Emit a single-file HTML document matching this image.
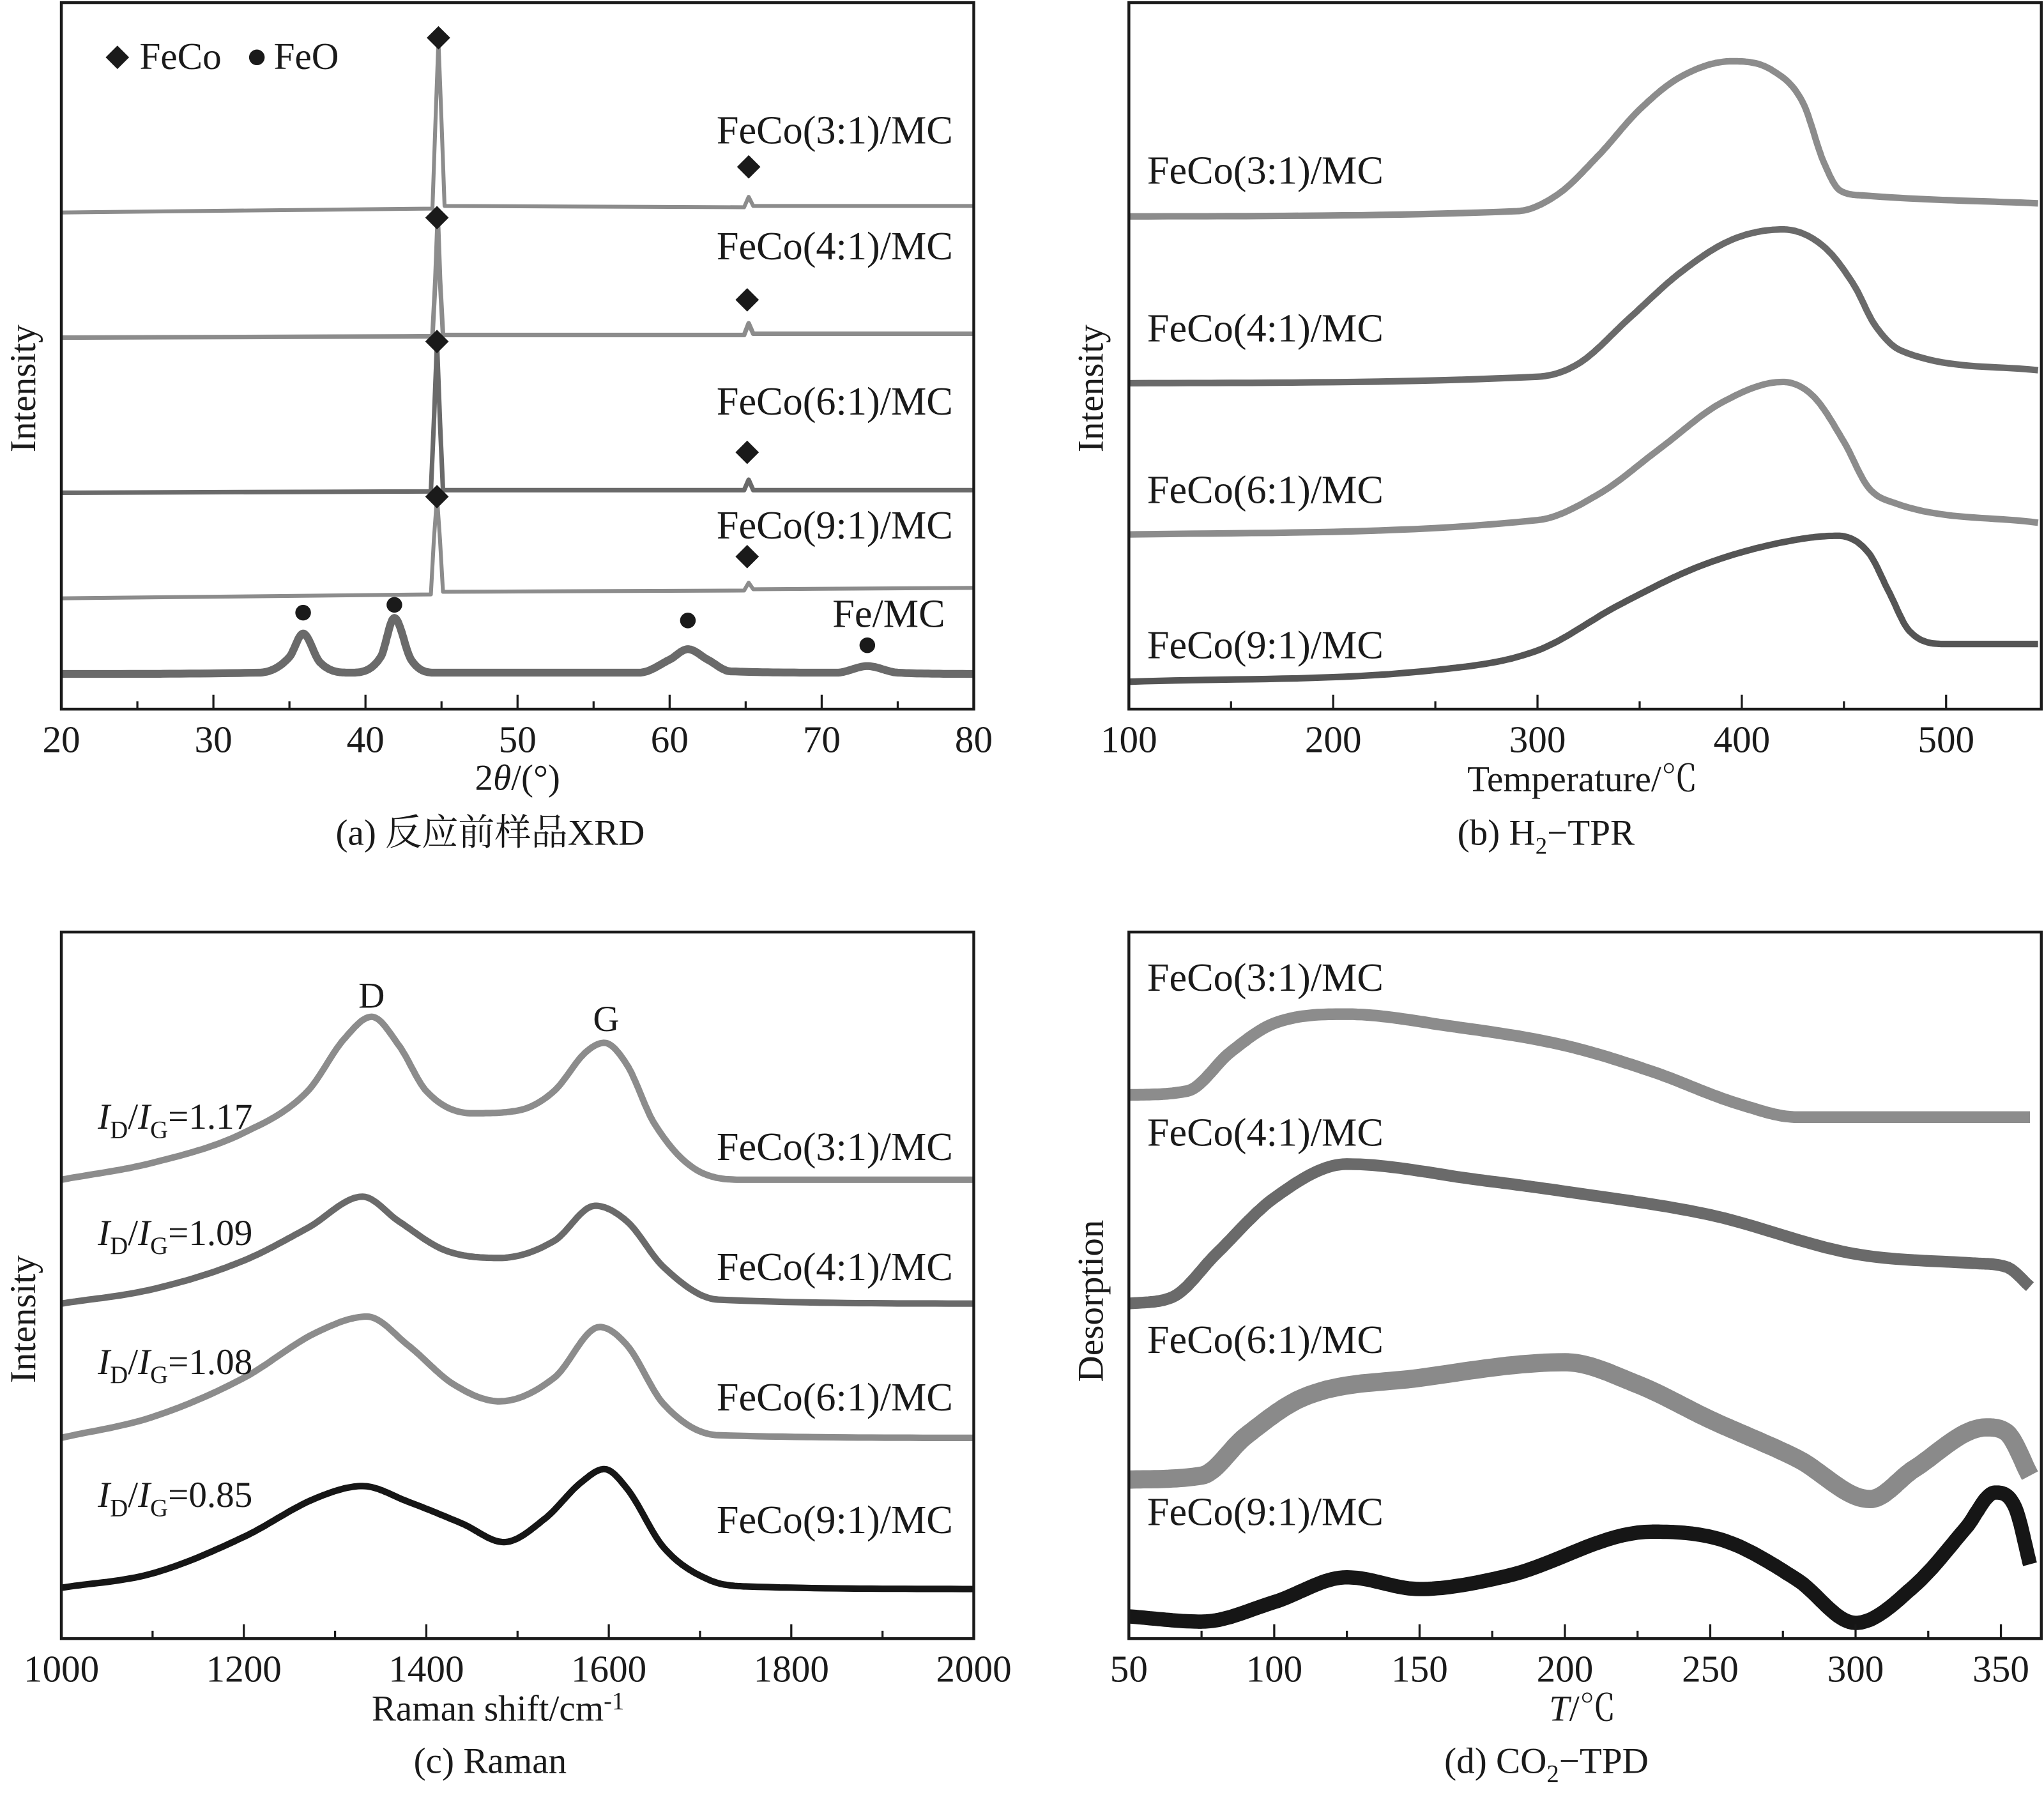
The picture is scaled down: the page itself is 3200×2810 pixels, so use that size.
<!DOCTYPE html>
<html><head><meta charset="utf-8"><style>
html,body{margin:0;padding:0;background:#fff}
svg{display:block}
text{font-family:"Liberation Serif","Noto Serif CJK SC","Noto Sans CJK SC",serif;fill:#1a1a1a}
</style></head><body>
<svg id="fig" width="3200" height="2810" viewBox="0 0 1568 1377" xmlns="http://www.w3.org/2000/svg"></svg>
<script>
// ---------- DATA ----------
// (a) XRD: 2θ positions and intensities (a.u.)
const xrd31_x=[20,44.4,44.6,44.8,45.0,45.2,64.9,65.2,65.5,80];
const xrd31_y=[381,384,450,513,450,386,385,393,386,386];
const xrd41_x=[20,44.4,44.6,44.75,44.9,45.1,64.9,65.2,65.5,80];
const xrd41_y=[285,286,330,378,330,287,287,296,288,288];
const xrd61_x=[20,44.3,44.5,44.7,44.9,45.1,64.9,65.2,65.5,80];
const xrd61_y=[166,167,220,281,220,168,168,176,168,168];
const xrd91_x=[20,44.3,44.5,44.7,44.9,45.1,64.9,65.2,65.5,80];
const xrd91_y=[85,88,130,163,130,90,91,97,92,93];
const xrdfe_x=[20,33,35,35.9,37,39,41,41.9,43,44.5,58,60,61.2,62.5,64,71,73,75,80];
const xrdfe_y=[27,28,40,58,36,28,40,70,38,28,28,38,46,38,29,28,33,28,27];
const feco_mark_x=[44.8,65.2,44.7,65.1,44.7,65.1,44.7,65.1];
const feco_mark_y=[515,416,377,314,282,197,163,117];
const feo_mark_x=[35.9,41.9,61.2,73];
const feo_mark_y=[74,80,68,49];
// (b) H2-TPR
const tpr31_x=[100,290,310,330,350,370,395,415,430,440,448,460,545];
const tpr31_y=[378,382,395,425,460,485,497,490,465,420,398,394,388];
const tpr41_x=[100,300,320,345,370,395,420,440,455,465,478,545];
const tpr41_y=[250,255,265,300,335,360,368,355,325,295,275,260];
const tpr61_x=[100,300,330,360,390,420,435,450,462,475,545];
const tpr61_y=[134,145,165,200,235,251,240,205,170,158,143];
const tpr91_x=[100,250,300,340,380,420,447,462,472,482,500,545];
const tpr91_y=[21,30,45,80,110,128,133,120,90,60,50,50];
// (c) Raman
const ram31_x=[1000,1100,1200,1270,1310,1340,1370,1400,1450,1500,1540,1575,1595,1620,1650,1700,1750,2000];
const ram31_y=[352,365,388,420,460,477,455,420,403,405,420,450,457,440,395,358,352,352];
const ram41_x=[1000,1100,1200,1270,1330,1370,1420,1480,1540,1585,1620,1660,1720,2000];
const ram41_y=[257,268,290,315,339,320,298,292,305,332,320,285,260,257];
const ram61_x=[1000,1100,1200,1280,1335,1380,1430,1480,1540,1590,1620,1660,1720,2000];
const ram61_y=[154,170,200,235,247,225,195,182,200,239,225,180,156,154];
const ram91_x=[1000,1100,1200,1280,1330,1380,1440,1485,1530,1570,1595,1620,1660,1710,1750,2000];
const ram91_y=[39,50,78,108,117,105,88,74,92,120,130,115,70,45,40,38];
// (d) CO2-TPD
const tpd31_x=[50,70,85,100,125,160,200,230,260,280,360];
const tpd31_y=[417,420,450,472,479,470,455,435,410,400,400];
const tpd41_x=[50,65,80,100,125,170,200,250,300,340,352,360];
const tpd41_y=[257,262,295,338,364,352,343,325,295,288,285,270];
const tpd61_x=[50,75,90,110,150,200,225,250,280,305,320,345,352,360];
const tpd61_y=[122,125,155,185,200,212,195,168,138,107,130,162,158,125];
const tpd91_x=[50,75,100,125,150,180,230,255,280,300,320,338,348,355,360];
const tpd91_y=[17,13,28,47,38,48,82,75,45,12,40,85,112,100,57];
// ticks
const ticksA=[20,30,40,50,60,70,80];
const ticksB=[100,200,300,400,500];
const ticksC=[1000,1200,1400,1600,1800,2000];
const ticksD=[50,100,150,200,250,300,350];

// ---------- DRAW ----------
const NS="http://www.w3.org/2000/svg";
const svg=document.getElementById('fig');
function el(tag,attrs,parent){const e=document.createElementNS(NS,tag);for(const k in attrs)e.setAttribute(k,attrs[k]);(parent||svg).appendChild(e);return e;}
function txt(s,x,y,size,name,parent,extra){const t=el('text',Object.assign({x:x,y:y,'font-size':size},extra||{}),parent);t.textContent=s;


return t;}
function makeAxis(x0,x1,y0,y1,d0,d1){return {sx:v=>x0+(v-d0)/(d1-d0)*(x1-x0),sy:v=>y1-v,x0,x1,y0,y1};}
// monotone cubic (Fritsch–Carlson) in data space, then sampled
function monotone(xs,ys){const n=xs.length,d=[],m=new Array(n);
 for(let i=0;i<n-1;i++)d.push((ys[i+1]-ys[i])/(xs[i+1]-xs[i]));
 m[0]=d[0];m[n-1]=d[n-2];
 for(let i=1;i<n-1;i++){m[i]=(d[i-1]*d[i]<=0)?0:(d[i-1]+d[i])/2;}
 for(let i=0;i<n-1;i++){if(d[i]===0){m[i]=0;m[i+1]=0;continue;}
  const a=m[i]/d[i],b=m[i+1]/d[i],s=a*a+b*b;if(s>9){const t=3/Math.sqrt(s);m[i]=t*a*d[i];m[i+1]=t*b*d[i];}}
 const out=[];
 for(let i=0;i<n-1;i++){const h=xs[i+1]-xs[i];for(let k=0;k<20;k++){const t=k/20,t2=t*t,t3=t2*t;
  const y=(2*t3-3*t2+1)*ys[i]+(t3-2*t2+t)*h*m[i]+(-2*t3+3*t2)*ys[i+1]+(t3-t2)*h*m[i+1];out.push([xs[i]+t*h,y]);}}
 out.push([xs[n-1],ys[n-1]]);return out;}
function pathD(ax,xs,ys,smooth){const pts=smooth?monotone(xs,ys):xs.map((x,i)=>[x,ys[i]]);
 return 'M'+pts.map(q=>ax.sx(q[0]).toFixed(1)+','+ax.sy(q[1]).toFixed(1)).join('L');}
function series(g,ax,xs,ys,color,w,smooth,name){const p=el('path',{d:pathD(ax,xs,ys,smooth),fill:'none',stroke:color,'stroke-width':w,'stroke-linejoin':'round','stroke-linecap':'butt'},g);
 
 }
function frame(g,ax,ticks,minorStep,name,labelY){
 const r=el('rect',{x:ax.x0,y:ax.y0,width:ax.x1-ax.x0,height:ax.y1-ax.y0,fill:'none',stroke:'#1a1a1a','stroke-width':2.2},g);
 
 
 const lo=ticks[0],hi=ticks[ticks.length-1];
 for(let v=lo;v<=hi+1e-9;v+=minorStep){const x=ax.sx(v);const major=ticks.some(t=>Math.abs(t-v)<1e-6);
  if(x>ax.x1+0.5)break;
  el('line',{x1:x,x2:x,y1:ax.y1,y2:ax.y1-(major?11:6),stroke:'#1a1a1a','stroke-width':1.6},g);}
 ticks.forEach(t=>txt(String(t),ax.sx(t),labelY,29,name+'-tick-label',g,{'text-anchor':'middle'}));
}
function diamond(g,x,y){const p=el('path',{d:`M${x},${y-9}L${x+9},${y}L${x},${y+9}L${x-9},${y}Z`,fill:'#1a1a1a'},g);
 
 }
function dot(g,x,y){const c=el('circle',{cx:x,cy:y,r:6,fill:'#1a1a1a'},g);
 
 }

const L='#8c8c8c',M='#6a6a6a',K='#161616';
const FS=30.5;

// ---- Panel a ----
const gA=el('g',{});


const A=makeAxis(47,747,2,544,20,80);
series(gA,A,xrd31_x,xrd31_y,L,3,false,'xrd-feco-3-1');
series(gA,A,xrd41_x,xrd41_y,L,3.5,false,'xrd-feco-4-1');
series(gA,A,xrd61_x,xrd61_y,M,3.5,false,'xrd-feco-6-1');
series(gA,A,xrd91_x,xrd91_y,L,3,false,'xrd-feco-9-1');
series(gA,A,xrdfe_x,xrdfe_y,M,6,true,'xrd-fe-mc');
feco_mark_x.forEach((x,i)=>diamond(gA,A.sx(x),A.sy(feco_mark_y[i])));
feo_mark_x.forEach((x,i)=>dot(gA,A.sx(x),A.sy(feo_mark_y[i])));
diamond(gA,90,44);txt('FeCo',107,53,29,'legend-feco',gA);
dot(gA,197,44);txt('FeO',210,53,29,'legend-feo',gA);
txt('FeCo(3:1)/MC',731,110,FS,'label-feco-3-1',gA,{'text-anchor':'end'});
txt('FeCo(4:1)/MC',731,199,FS,'label-feco-4-1',gA,{'text-anchor':'end'});
txt('FeCo(6:1)/MC',731,318,FS,'label-feco-6-1',gA,{'text-anchor':'end'});
txt('FeCo(9:1)/MC',731,413,FS,'label-feco-9-1',gA,{'text-anchor':'end'});
txt('Fe/MC',725,481,FS,'label-fe-mc',gA,{'text-anchor':'end'});
frame(gA,A,ticksA,5,'x-axis-a',577);
const xa=txt('2',397,606,28,'x-axis-title-a',gA,{'text-anchor':'middle'});
const xa1=el('tspan',{'font-style':'italic'},xa);xa1.textContent='θ';
const xa2=el('tspan',{},xa);xa2.textContent='/(°)';
txt('Intensity',27,298,28,'y-axis-title-a',gA,{'text-anchor':'middle',transform:'rotate(-90 27 298)'});
txt('(a) 反应前样品XRD',376,648,28,'caption-a',gA,{'text-anchor':'middle'});

// ---- Panel b ----
const gB=el('g',{});


const B=makeAxis(866,1566,2,544,100,546.6);
series(gB,B,tpr31_x,tpr31_y,L,5,true,'tpr-feco-3-1');
series(gB,B,tpr41_x,tpr41_y,M,5,true,'tpr-feco-4-1');
series(gB,B,tpr61_x,tpr61_y,L,5,true,'tpr-feco-6-1');
series(gB,B,tpr91_x,tpr91_y,'#555',5,true,'tpr-feco-9-1');
txt('FeCo(3:1)/MC',880,141,FS,'label-tpr-3-1',gB);
txt('FeCo(4:1)/MC',880,262,FS,'label-tpr-4-1',gB);
txt('FeCo(6:1)/MC',880,386,FS,'label-tpr-6-1',gB);
txt('FeCo(9:1)/MC',880,505,FS,'label-tpr-9-1',gB);
frame(gB,B,ticksB,50,'x-axis-b',577);
txt('Temperature/℃',1214,607,28,'x-axis-title-b',gB,{'text-anchor':'middle'});
txt('Intensity',846,298,28,'y-axis-title-b',gB,{'text-anchor':'middle',transform:'rotate(-90 846 298)'});
const capB=txt('(b) H',1118,648,28,'caption-b',gB);
const s1=el('tspan',{'font-size':18,dy:7},capB);s1.textContent='2';
const s2=el('tspan',{dy:-7},capB);s2.textContent='−TPR';

// ---- Panel c ----
const gC=el('g',{});


const C=makeAxis(47,747,715,1257,1000,2000);
series(gC,C,ram31_x,ram31_y,L,5,true,'raman-feco-3-1');
series(gC,C,ram41_x,ram41_y,M,5,true,'raman-feco-4-1');
series(gC,C,ram61_x,ram61_y,L,5,true,'raman-feco-6-1');
series(gC,C,ram91_x,ram91_y,K,5,true,'raman-feco-9-1');
txt('D',285,773,28,'d-band-label',gC,{'text-anchor':'middle'});
txt('G',465,791,28,'g-band-label',gC,{'text-anchor':'middle'});
[['1.17',866],['1.09',955],['1.08',1054],['0.85',1156]].forEach(r=>{
 const t=txt('',75,r[1],28,'id-ig-ratio',gC);
 const a=el('tspan',{'font-style':'italic'},t);a.textContent='I';
 const b=el('tspan',{'font-size':19,dy:7},t);b.textContent='D';
 const c=el('tspan',{dy:-7},t);c.textContent='/';
 const d=el('tspan',{'font-style':'italic'},t);d.textContent='I';
 const e=el('tspan',{'font-size':19,dy:7},t);e.textContent='G';
 const f=el('tspan',{dy:-7},t);f.textContent='='+r[0];});
txt('FeCo(3:1)/MC',731,890,FS,'label-raman-3-1',gC,{'text-anchor':'end'});
txt('FeCo(4:1)/MC',731,982,FS,'label-raman-4-1',gC,{'text-anchor':'end'});
txt('FeCo(6:1)/MC',731,1082,FS,'label-raman-6-1',gC,{'text-anchor':'end'});
txt('FeCo(9:1)/MC',731,1176,FS,'label-raman-9-1',gC,{'text-anchor':'end'});
frame(gC,C,ticksC,100,'x-axis-c',1290);
const xc=txt('Raman shift/cm',382,1320,28,'x-axis-title-c',gC,{'text-anchor':'middle'});
const xs=el('tspan',{'font-size':19,dy:-9},xc);xs.textContent='-1';
txt('Intensity',27,1012,28,'y-axis-title-c',gC,{'text-anchor':'middle',transform:'rotate(-90 27 1012)'});
txt('(c) Raman',376,1360,28,'caption-c',gC,{'text-anchor':'middle'});

// ---- Panel d ----
const gD=el('g',{});


const D=makeAxis(866,1566,715,1257,50,363.9);
series(gD,D,tpd31_x,tpd31_y,L,9,true,'tpd-feco-3-1');
series(gD,D,tpd41_x,tpd41_y,M,9,true,'tpd-feco-4-1');
series(gD,D,tpd61_x,tpd61_y,'#8a8a8a',14,true,'tpd-feco-6-1');
series(gD,D,tpd91_x,tpd91_y,K,11,true,'tpd-feco-9-1');
txt('FeCo(3:1)/MC',880,760,FS,'label-tpd-3-1',gD);
txt('FeCo(4:1)/MC',880,879,FS,'label-tpd-4-1',gD);
txt('FeCo(6:1)/MC',880,1038,FS,'label-tpd-6-1',gD);
txt('FeCo(9:1)/MC',880,1170,FS,'label-tpd-9-1',gD);
frame(gD,D,ticksD,25,'x-axis-d',1290);
const xd=txt('',1214,1320,28,'x-axis-title-d',gD,{'text-anchor':'middle'});
const t1=el('tspan',{'font-style':'italic'},xd);t1.textContent='T';
const t2=el('tspan',{},xd);t2.textContent='/℃';
txt('Desorption',846,998,28,'y-axis-title-d',gD,{'text-anchor':'middle',transform:'rotate(-90 846 998)'});
const capD=txt('(d) CO',1108,1360,28,'caption-d',gD);
const d1=el('tspan',{'font-size':19,dy:7},capD);d1.textContent='2';
const d2=el('tspan',{dy:-7},capD);d2.textContent='−TPD';
</script>
</body></html>
